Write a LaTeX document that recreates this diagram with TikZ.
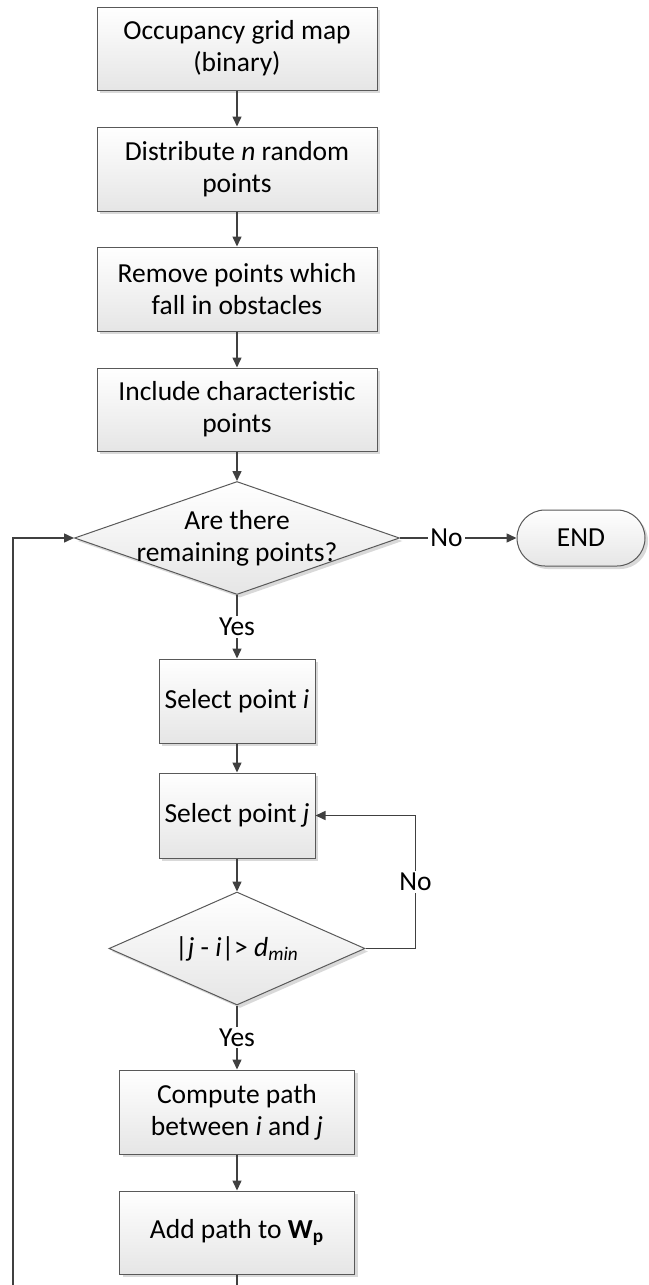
\documentclass[tikz,border=0pt]{standalone}
\usepackage{fontspec}
\setmainfont{Carlito}
\usetikzlibrary{shapes.geometric,arrows.meta,shadows}
\definecolor{boxedge}{HTML}{595959}
\definecolor{flowline}{HTML}{404040}

\begin{document}
\begin{tikzpicture}[x=0.5pt,y=-0.5pt,
    font=\fontsize{13.75}{16}\selectfont,
    shade/.style={top color=white, bottom color=black!10,
      drop shadow={shadow xshift=1.5pt, shadow yshift=-1.5pt, fill=black!25, opacity=0.6}},
    procbox/.style={rectangle, draw=boxedge, line width=0.5pt, shade, align=center, inner sep=0pt},
    decide/.style={diamond, draw=boxedge, line width=0.5pt, shade, inner sep=0pt},
    termbox/.style={rectangle, rounded corners=14pt, draw=boxedge, line width=0.5pt, shade, inner sep=0pt},
    flow/.style={draw=flowline, line width=0.75pt, -{Triangle[length=5pt,width=4.5pt]}}]
    \path[use as bounding box, clip] (0,0) rectangle (648,1285);

    \node[procbox, minimum width=140pt, minimum height=41.5pt] (grid) at (237,48.5)
    {Occupancy grid map\\(binary)};
    \node[procbox, minimum width=140pt, minimum height=42pt] (distr) at (237,169)
    {Distribute \textit{n} random\\points};
    \node[procbox, minimum width=140pt, minimum height=42pt] (remove) at (237,289)
    {Remove points which\\fall in obstacles};
    \node[procbox, minimum width=140pt, minimum height=41.5pt] (incl) at (237,409.5)
    {Include characteristic\\points};
    \node[decide, minimum width=162.5pt, minimum height=56.5pt,
      label={[align=center]center:Are there\\remaining points?}] (remain) at (237,538) {};
    \node[termbox, minimum width=64pt, minimum height=28pt] (stop) at (581,538) {END};
    \node[procbox, minimum width=78pt, minimum height=42pt] (seli) at (237,701)
    {Select point \textit{i}};
    \node[procbox, minimum width=78pt, minimum height=42.5pt] (selj) at (237,815.5)
    {Select point \textit{j}};
    \node[decide, minimum width=128pt, minimum height=56.5pt,
      label={center:|\textit{j} - \textit{i}|> \textit{d}\textsubscript{\textit{min}}}] (dist) at (237,948.5) {};
    \node[procbox, minimum width=117.5pt, minimum height=42pt] (comp) at (237,1112)
    {Compute path\\between \textit{i} and \textit{j}};
    \node[procbox, minimum width=117.5pt, minimum height=41.5pt] (add) at (237,1232.5)
    {Add path to \textbf{W}\textsubscript{\textbf{p}}};
    \coordinate (back) at (13,1320);

    \draw[flow] (grid) -- (distr);
    \draw[flow] (distr) -- (remove);
    \draw[flow] (remove) -- (incl);
    \draw[flow] (incl) -- (remain);
    \draw[flow] (remain.east) -- (stop.west) node[pos=0.4, fill=white, inner sep=1pt] {No};
    \draw[flow] (remain.south) -- (seli.north) node[midway, fill=white, inner sep=1pt] {Yes};
    \draw[flow] (seli) -- (selj);
    \draw[flow] (selj) -- (dist);
    \draw[flow] (dist.east) -- ++(50,0) |- (selj.east) node[pos=0.25, fill=white, inner sep=1pt] {No};
    \draw[flow] (dist.south) -- (comp.north) node[midway, fill=white, inner sep=1pt] {Yes};
    \draw[flow] (comp) -- (add);
    \draw[flow] (add.south) |- (back) |- (remain.west);
  \end{tikzpicture}
\end{document}
